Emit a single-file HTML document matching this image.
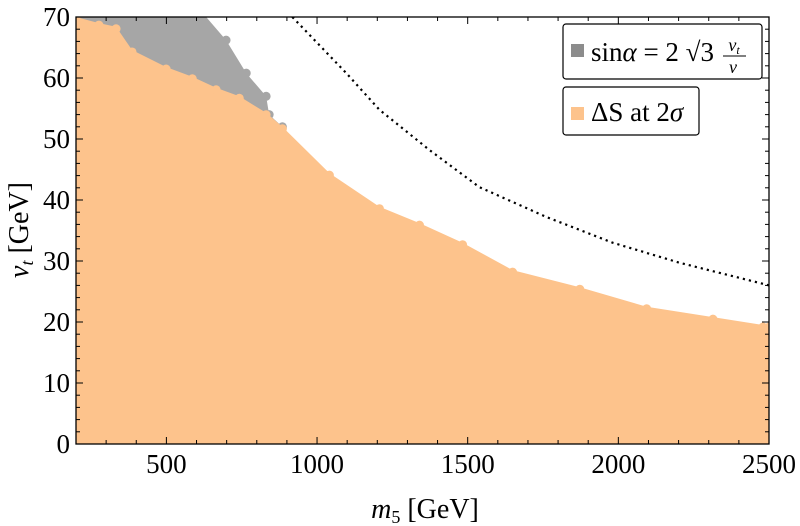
<!DOCTYPE html>
<html><head><meta charset="utf-8"><style>
html,body{margin:0;padding:0;background:#fff;}
svg{display:block;font-family:"Liberation Serif","DejaVu Serif",serif;}
</style></head><body>
<svg id="chart" width="800" height="526" viewBox="0 0 800 526">
<defs><clipPath id="clip"><rect x="76" y="17" width="693" height="427"/></clipPath></defs>
<g id="plot" clip-path="url(#clip)"></g>
<g id="axes"></g>
<g id="legend">
  <g>
    <rect x="563" y="24" width="199" height="55" rx="3" fill="#fff" stroke="#000" stroke-width="1.2"/>
    <rect x="571" y="44" width="13" height="13" fill="#8c8c8c"/>
    <text x="591" y="61" font-size="27">sin<tspan font-style="italic">α</tspan> = 2 √3</text>
    <text x="734" y="51" font-size="18" font-style="italic" text-anchor="middle">v<tspan font-size="12" dy="3">t</tspan></text>
    <line x1="723" y1="56" x2="746" y2="56" stroke="#000" stroke-width="1"/>
    <text x="733" y="73" font-size="18" font-style="italic" text-anchor="middle">v</text>
  </g>
  <g>
    <rect x="563" y="87" width="136" height="48" rx="3" fill="#fff" stroke="#000" stroke-width="1.2"/>
    <rect x="571" y="107" width="13" height="13" fill="#fdc38c"/>
    <text x="591" y="121" font-size="27">ΔS at 2<tspan font-style="italic">σ</tspan></text>
  </g>
</g>
<text x="425" y="518" font-size="28" text-anchor="middle"><tspan font-style="italic">m</tspan><tspan font-size="18" dy="5">5</tspan><tspan dy="-5"> [GeV]</tspan></text>
<text transform="translate(28,230) rotate(-90)" font-size="28" text-anchor="middle"><tspan font-style="italic">v</tspan><tspan font-size="18" font-style="italic" dy="5">t</tspan><tspan dy="-5"> [GeV]</tspan></text>
</svg>
<script>
const orangeM = [200,276,333,386,499,586,665,742,831,885,1041,1207,1340,1483,1649,1872,2094,2314,2480,2500];
const orangeV = [70,69,68.4,64.6,61.8,60.2,58.4,57,54.3,52,44.4,38.9,36.2,33,28.5,25.7,22.5,20.8,19.5,19.5];
const grayM = [200,632,698,765,831,841,885];
const grayV = [70,70,66.2,60.8,57,54,52];
const lineM = [918,1097,1207,1373,1539,1762,1981,2204,2493,2500];
const lineV = [70,60.8,54.8,48.2,42.1,37.2,33,29.7,26.1,26];
const xTicks = [500,1000,1500,2000,2500];
const yTicks = [0,10,20,30,40,50,60,70];

const NS = "http://www.w3.org/2000/svg";
const xa = m => 76 + (m - 200) * 0.3013;
const ya = v => 444 - v * 6.1;
const plot = document.getElementById('plot');
const axes = document.getElementById('axes');
function mk(tag, attrs, parent){const e=document.createElementNS(NS,tag);for(const k in attrs)e.setAttribute(k,attrs[k]);parent.appendChild(e);return e;}

let d = 'M' + xa(grayM[0]) + ',' + ya(0);
grayM.forEach((m,i)=>{ d += ' L' + xa(m) + ',' + ya(grayV[i]); });
d += ' L' + xa(grayM[grayM.length-1]) + ',' + ya(0) + ' Z';
const gp = mk('path',{d:d,fill:'#a6a6a6'},plot);


grayM.forEach((m,i)=>{ if(i>1){
  const c = mk('circle',{cx:xa(m),cy:ya(grayV[i]),r:4.5,fill:'#a6a6a6'},plot);
  
  
}});

d = 'M' + xa(orangeM[0]) + ',' + (ya(0)+2);
orangeM.forEach((m,i)=>{ d += ' L' + xa(m) + ',' + ya(orangeV[i]); });
d += ' L' + xa(orangeM[orangeM.length-1]) + ',' + (ya(0)+2) + ' Z';
const op = mk('path',{d:d,fill:'#fdc38c'},plot);


orangeM.forEach((m,i)=>{
  const c = mk('circle',{cx:xa(m),cy:ya(orangeV[i])+2,r:4.5,fill:'#fdc38c'},plot);
  
  
});

const pts = lineM.map((m,i)=>xa(m)+','+ya(lineV[i])).join(' ');
const pl = mk('polyline',{points:pts,fill:'none',stroke:'#000','stroke-width':2.2,'stroke-dasharray':'2.2 4','stroke-linejoin':'round'},plot);



const fr = mk('rect',{x:76,y:17,width:693,height:427,fill:'none',stroke:'#000','stroke-width':1.3},axes);


for(let m=200;m<=2500;m+=100){
  const maj = m%500===0, L = maj?7:4;
  mk('line',{x1:xa(m),y1:444,x2:xa(m),y2:444-L,stroke:'#000','stroke-width':1},axes);
  mk('line',{x1:xa(m),y1:17,x2:xa(m),y2:17+L,stroke:'#000','stroke-width':1},axes);
}
xTicks.forEach(t=>{
  const tx = mk('text',{x:xa(t),y:473,'font-size':27,'text-anchor':'middle'},axes);
  tx.textContent = t;
  
  
});
for(let v=0;v<=70;v+=2){
  const maj = v%10===0, L = maj?7:4;
  mk('line',{x1:76,y1:ya(v),x2:76+L,y2:ya(v),stroke:'#000','stroke-width':1},axes);
  mk('line',{x1:769,y1:ya(v),x2:769-L,y2:ya(v),stroke:'#000','stroke-width':1},axes);
}
yTicks.forEach(t=>{
  const tx = mk('text',{x:70,y:ya(t)+9,'font-size':27,'text-anchor':'end'},axes);
  tx.textContent = t;
  
  
});
</script>
</body></html>
